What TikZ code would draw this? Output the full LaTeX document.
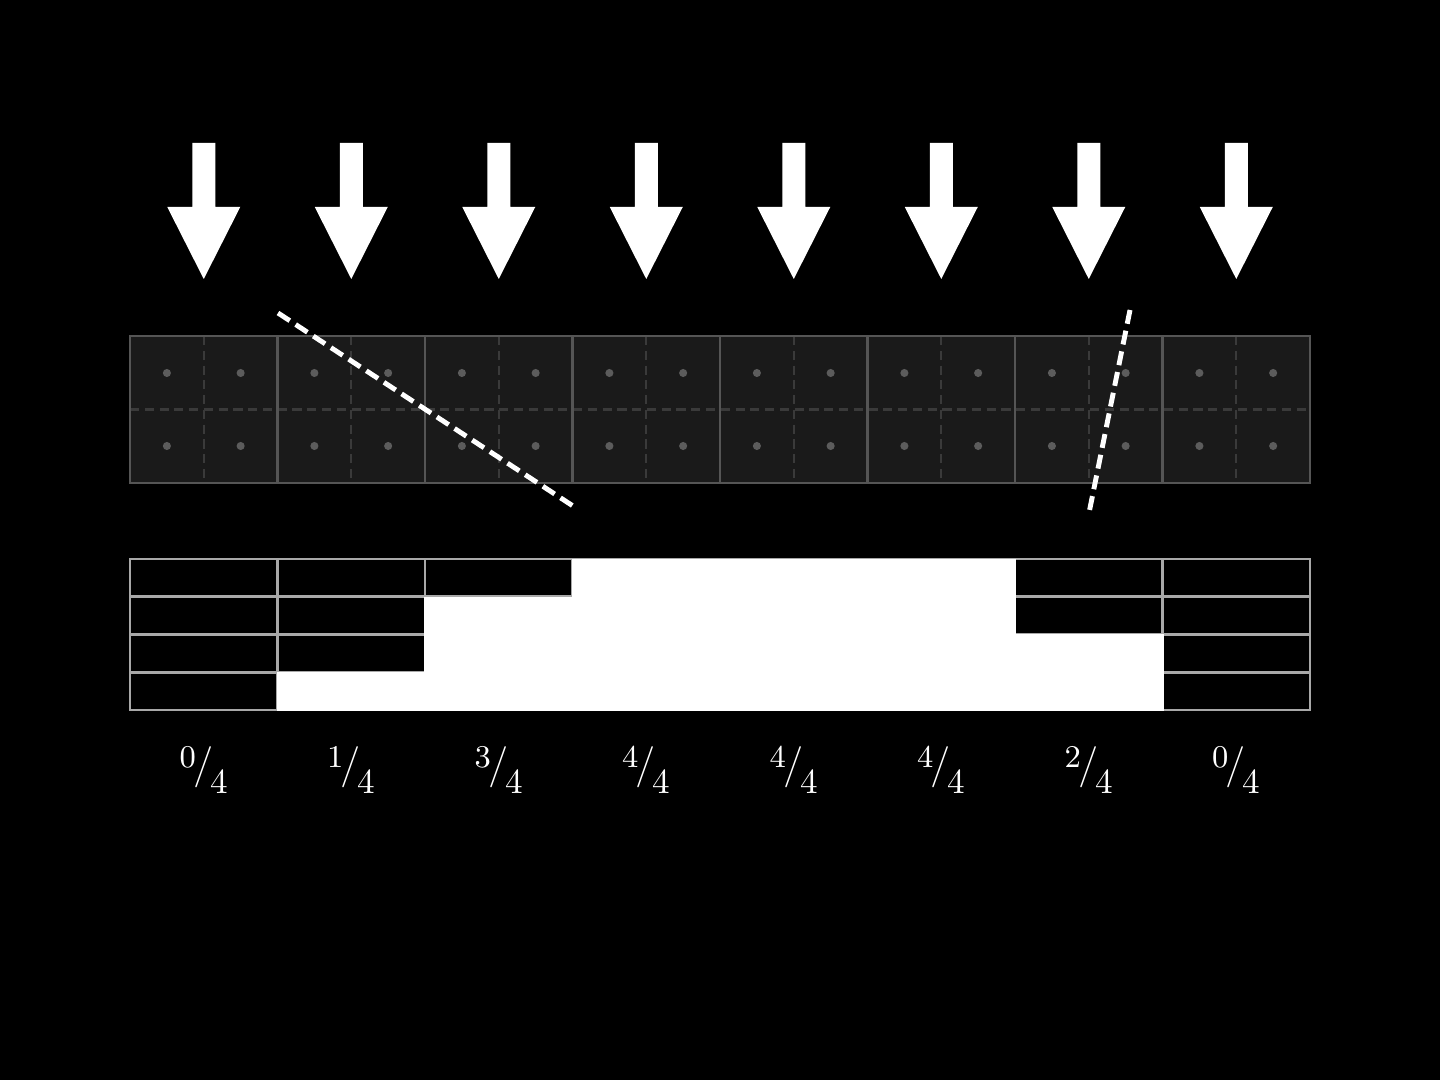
\documentclass[tikz,border=0pt]{standalone}
\usetikzlibrary{calc}
\definecolor{pixfill}{HTML}{1A1A1A}
\definecolor{pixline}{HTML}{555555}
\definecolor{subline}{HTML}{3A3A3A}
\definecolor{sampledot}{HTML}{5C5C5C}
\definecolor{cellline}{HTML}{A8A8A8}
\newcommand{\covfrac}[2]{{\fontsize{9}{10}\selectfont\raisebox{2.8pt}{#1}}\kern-0.8pt{\fontsize{11.7}{14}\selectfont/}\kern-0.8pt{\fontsize{10}{11}\selectfont\raisebox{-4.6pt}{#2}}}
\begin{document}
\begin{tikzpicture}[
		x=0.01cm,y=-0.01cm,
		ray/.pic={
			\fill [white] (-11.5,0) -- (11.5,0) -- (11.5,64) -- (36.5,64) -- (0,136) -- (-36.5,64) -- (-11.5,64) --cycle;
		},
		pixel/.style={draw=pixline,line width=0.6pt},
		subpixel/.style={draw=subline,line width=0.6pt,dash pattern=on 2.6pt off 1.6pt},
		sample/.style={fill=sampledot},
		edgeline/.style={draw=white,line width=1.4pt,dash pattern=on 4pt off 2pt},
		cell/.style={draw=cellline,line width=0.75pt},
		covered/.style={fill=white}
	]
	\fill [black] (0,0) rectangle (1440,1080);
	\useasboundingbox (0,0) rectangle (1440,1080);

	% rays
	\foreach \i in {0,...,7}
		\pic (ray\i) at ({203.75+147.5*\i},143) {ray};

	% pixels with 2x2 samples
	\fill [pixfill] (130,336) rectangle (1310,483);
	\foreach \i in {0,...,7}
		\draw [subpixel] ({203.75+147.5*\i},336) -- ++(0,147);
	\draw [subpixel] (130,409.5) -- (1310,409.5);
	\foreach \i in {0,...,8}
		\draw [pixel] ({130+147.5*\i},336) -- ++(0,147);
	\draw [pixel] (130,336) rectangle (1310,483);
	\foreach \i in {0,...,15}
		\foreach \y in {373,446}
			\fill [sample] ({166.9+73.75*\i},\y) circle (1.15pt);

	% edges
	\coordinate (edgeA-start) at (278,313);
	\coordinate (edgeA-end) at (573,506);
	\coordinate (edgeB-start) at (1130,310);
	\coordinate (edgeB-end) at (1089,513);
	\draw [edgeline] (edgeA-start) -- (edgeA-end);
	\draw [edgeline] (edgeB-start) -- (edgeB-end);

	% coverage
	\foreach \n in {0,...,7}
		\foreach \r in {0,...,3}
			\draw [cell] ({130+147.5*\n},{559+37.75*\r}) rectangle ++(147.5,37.75);
	\foreach \k [count=\n from 0] in {0,1,3,4,4,4,2,0} {
		\ifnum\k>0
			\fill [covered] ({129+147.5*\n},{711-37.75*\k-1}) rectangle ++(149.5,{37.75*\k+1.5});
		\fi
	}

	\foreach \k [count=\n from 0] in {0,1,3,4,4,4,2,0}
		\node [anchor=base,text=white,inner sep=0] (frac\n) at ({203.75+147.5*\n},777.7) {\covfrac{\k}{4}};
\end{tikzpicture}
\end{document}
